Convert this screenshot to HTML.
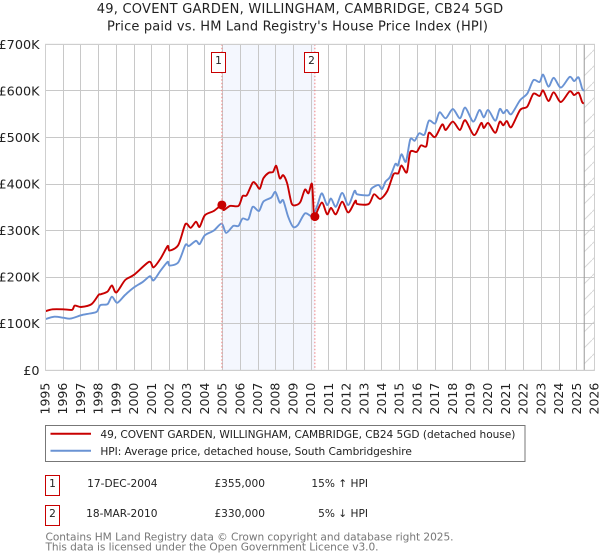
<!DOCTYPE html>
<html>
<head>
<meta charset="utf-8">
<style>
html,body{margin:0;padding:0;background:#fff}
body{width:600px;height:560px;overflow:hidden;position:relative;font-family:"DejaVu Sans","Liberation Sans",sans-serif}
svg{position:absolute;left:0;top:0}
text{font-family:"DejaVu Sans","Liberation Sans",sans-serif}
</style>
</head>
<body>
<svg id="c" width="600" height="560" viewBox="0 0 600 560">
  <defs>
    <pattern id="hatch" x="0" y="4" width="16" height="16" patternUnits="userSpaceOnUse">
      <path d="M0 16L16 0" stroke="#d8d8d8" stroke-width="1"/>
    </pattern>
  </defs>
  <text x="96.7" y="13" textLength="406.5" lengthAdjust="spacing" font-size="13" fill="#222">49, COVENT GARDEN, WILLINGHAM, CAMBRIDGE, CB24 5GD</text>
  <text x="107" y="30.5" textLength="381" lengthAdjust="spacing" font-size="13" fill="#222">Price paid vs. HM Land Registry's House Price Index (HPI)</text>
  <g id="plot"></g>

  <rect x="45.5" y="425.5" width="479.5" height="36" fill="#fff" stroke="#777"/>
  <line x1="50.5" x2="91" y1="433.7" y2="433.7" stroke="#c80000" stroke-width="2"/>
  <text x="100.4" y="438" textLength="415" lengthAdjust="spacing" font-size="10.6" fill="#222">49, COVENT GARDEN, WILLINGHAM, CAMBRIDGE, CB24 5GD (detached house)</text>
  <line x1="50.5" x2="91" y1="450.7" y2="450.7" stroke="#6a93d4" stroke-width="2"/>
  <text x="100.4" y="455" textLength="311.5" lengthAdjust="spacing" font-size="10.6" fill="#222">HPI: Average price, detached house, South Cambridgeshire</text>

  <rect x="45.5" y="475.5" width="14" height="20" fill="#fff" stroke="#c80000"/>
  <text x="52.5" y="487" text-anchor="middle" font-size="10.6" fill="#222">1</text>
  <text x="157.5" y="487" text-anchor="end" font-size="10.6" fill="#222">17-DEC-2004</text>
  <text x="265" y="487" text-anchor="end" font-size="10.6" fill="#222">£355,000</text>
  <text x="368" y="487" text-anchor="end" font-size="10.6" fill="#222">15% ↑ HPI</text>

  <rect x="45.5" y="505.5" width="14" height="20" fill="#fff" stroke="#c80000"/>
  <text x="52.5" y="517" text-anchor="middle" font-size="10.6" fill="#222">2</text>
  <text x="157.5" y="517" text-anchor="end" font-size="10.6" fill="#222">18-MAR-2010</text>
  <text x="265" y="517" text-anchor="end" font-size="10.6" fill="#222">£330,000</text>
  <text x="368" y="517" text-anchor="end" font-size="10.6" fill="#222">5% ↓ HPI</text>

  <text x="45.5" y="540.5" textLength="408" lengthAdjust="spacing" font-size="10.6" fill="#777">Contains HM Land Registry data © Crown copyright and database right 2025.</text>
  <text x="45.5" y="550.5" textLength="333" lengthAdjust="spacing" font-size="10.6" fill="#777">This data is licensed under the Open Government Licence v3.0.</text>
</svg>
<script>
const yearLabels = [1995,1996,1997,1998,1999,2000,2001,2002,2003,2004,2005,2006,2007,2008,2009,2010,2011,2012,2013,2014,2015,2016,2017,2018,2019,2020,2021,2022,2023,2024,2025,2026];
const priceTicks = [0,100,200,300,400,500,600,700];
const priceTickLabels = ["£0","£100K","£200K","£300K","£400K","£500K","£600K","£700K"];
const hpiDates = [1995,1995.5,1996,1996.4,1997,1997.5,1997.9,1998.1,1998.5,1998.75,1999.05,1999.5,2000,2000.5,2000.9,2001.1,2001.5,2001.9,2002,2002.5,2002.9,2003.1,2003.5,2003.7,2004,2004.5,2004.95,2005.2,2005.6,2005.9,2006.13,2006.45,2006.7,2007.05,2007.3,2007.75,2007.98,2008.23,2008.42,2008.7,2008.98,2009.25,2009.65,2010.05,2010.33,2010.6,2010.9,2011.12,2011.4,2011.75,2012.1,2012.45,2012.6,2013.25,2013.4,2013.8,2014,2014.2,2014.45,2014.75,2014.9,2015.1,2015.35,2015.6,2015.85,2016.1,2016.4,2016.65,2017,2017.25,2017.6,2018,2018.4,2018.7,2019.15,2019.5,2019.75,2020,2020.4,2020.65,2020.85,2021.05,2021.3,2021.8,2022.2,2022.55,2022.9,2023.1,2023.4,2023.7,2024.1,2024.6,2024.85,2025.1,2025.3,2025.4];
const hpiValues = [110,115,113,111,118,122,126,140,142,158,145,162,178,190,202,193,214,233,225,232,269,267,278,271,290,300,315,295,310,310,326,324,351,342,362,371,383,360,365,330,308,312,337,331,352,380,355,369,351,381,355,385,378,376,390,398,389,405,415,443,440,464,448,496,493,509,506,536,530,554,541,561,541,564,534,559,543,559,536,561,552,559,550,580,594,623,619,635,609,628,607,630,621,629,605,600];
const paidDates = [1995,1995.4,1996,1996.5,1996.65,1997,1997.6,1998,1998.1,1998.5,1998.75,1999,1999.5,2000,2000.85,2001.1,2001.5,2001.9,2002,2002.5,2002.9,2003.2,2003.5,2003.7,2004,2004.5,2004.96,2005.05,2005.42,2005.9,2006.13,2006.36,2006.7,2006.88,2007.1,2007.3,2007.6,2007.85,2008.03,2008.23,2008.42,2008.65,2008.9,2009.17,2009.4,2009.65,2009.85,2010.05,2010.15,2010.21,2010.6,2010.9,2011.12,2011.4,2011.75,2012.1,2012.5,2012.6,2013.25,2013.55,2013.9,2014.3,2014.65,2014.92,2015.1,2015.4,2015.6,2015.96,2016.2,2016.5,2016.65,2017,2017.4,2017.6,2018,2018.4,2018.7,2019.2,2019.6,2019.75,2020,2020.4,2020.65,2020.85,2021.05,2021.3,2021.8,2022.2,2022.55,2022.9,2023.1,2023.4,2023.7,2024.1,2024.6,2024.85,2025.1,2025.3,2025.4];
const paidValues = [127,131,131,130,139,136,142,162,163,169,182,167,194,205,233,221,240,267,257,269,314,306,319,308,333,342,355,344,353,353,374,376,403,400,390,412,424,426,439,412,419,401,358,355,362,388,380,400,333,330,360,335,349,335,362,339,364,357,357,378,368,385,421,423,440,425,469,469,483,481,510,501,528,516,534,516,537,505,531,520,531,510,534,526,535,522,559,566,594,589,601,578,597,576,599,591,596,576,573];
const saleDates = [2004.96,2010.21];
const saleValues = [355,330];
const saleNumbers = ["1","2"];
const forecastStart = 2025.42;

const svgNS = "http://www.w3.org/2000/svg";
const plot = document.getElementById("plot");
const left = 45.5, right = 594.5, top_ = 44.3, bottom = 370.3;
function xScale(year){ return left + (year - 1995) * (right - left) / 31; }
function yScale(v){ return bottom - v * (bottom - top_) / 700; }
function make(tag, attrs, text){
  const el = document.createElementNS(svgNS, tag);
  for (const k in attrs) el.setAttribute(k, attrs[k]);
  if (text !== undefined) el.textContent = text;
  plot.appendChild(el);
  return el;
}
function linePath(xs, ys){
  const n = Math.min(xs.length, ys.length);
  const p = [];
  for (let i = 0; i < n; i++) p.push([xScale(xs[i]), yScale(ys[i])]);
  let d = "M" + p[0][0].toFixed(1) + " " + p[0][1].toFixed(1);
  const k = 0.14;
  for (let i = 0; i < n - 1; i++) {
    const a = p[Math.max(i - 1, 0)], b = p[i], c = p[i + 1], e = p[Math.min(i + 2, n - 1)];
    d += "C" + (b[0] + (c[0] - a[0]) * k).toFixed(1) + " " + (b[1] + (c[1] - a[1]) * k).toFixed(1) + " " +
         (c[0] - (e[0] - b[0]) * k).toFixed(1) + " " + (c[1] - (e[1] - b[1]) * k).toFixed(1) + " " +
         c[0].toFixed(1) + " " + c[1].toFixed(1);
  }
  return d;
}

const band = make("rect", {x: xScale(saleDates[0]), y: top_, width: xScale(saleDates[1]) - xScale(saleDates[0]), height: bottom - top_, fill: "#f4f7fe"});



const hatch = make("rect", {x: xScale(forecastStart), y: top_, width: right - xScale(forecastStart), height: bottom - top_, fill: "url(#hatch)"});



yearLabels.forEach(function(year){
  const x = Math.round(xScale(year) - 0.5) + 0.5;
  const g = make("line", {x1: x, x2: x, y1: top_, y2: bottom, stroke: "#c8c8c8", "stroke-width": 1});
  
  
  const t = make("text", {transform: "translate(" + (xScale(year) + 4) + ",414.5) rotate(-90)", "font-size": 12.5, fill: "#222"}, String(year));
  
  
});
priceTicks.forEach(function(v, i){
  const y = Math.round(yScale(v) - 0.5) + 0.5;
  const g = make("line", {x1: left, x2: right, y1: y, y2: y, stroke: "#c8c8c8", "stroke-width": 1});
  
  
  const t = make("text", {x: 39.5, y: yScale(v) + 4.5, "text-anchor": "end", "font-size": 12.8, fill: "#222"}, priceTickLabels[i]);
  
  
});

const fcLine = make("line", {x1: xScale(forecastStart), x2: xScale(forecastStart), y1: top_, y2: bottom, stroke: "#999", "stroke-width": 1});



const hpiLine = make("path", {d: linePath(hpiDates, hpiValues), fill: "none", stroke: "#6a93d4", "stroke-width": 1.9, "stroke-linejoin": "round"});



const paidLine = make("path", {d: linePath(paidDates, paidValues), fill: "none", stroke: "#c80000", "stroke-width": 1.9, "stroke-linejoin": "round"});



saleDates.forEach(function(d, i){
  const x = xScale(d);
  const v = make("line", {x1: x, x2: x, y1: top_, y2: bottom, stroke: "#f08080", "stroke-width": 1, "stroke-dasharray": "1.5 2"});
  
  
  const c = make("circle", {cx: x, cy: yScale(saleValues[i]), r: 4.5, fill: "#c80000"});
  
  
  const b = make("rect", {x: Math.round(x) - 10.5, y: 52.5, width: 14, height: 20, fill: "#fff", stroke: "#c80000"});
  
  
  const t = make("text", {x: Math.round(x) - 3.5, y: 64, "text-anchor": "middle", "font-size": 10.6, fill: "#222"}, saleNumbers[i]);
  
  
});

const frame = make("rect", {x: left, y: top_, width: right - left, height: bottom - top_, fill: "none", stroke: "#cfcfcf", "stroke-width": 1});


</script>
</body>
</html>
